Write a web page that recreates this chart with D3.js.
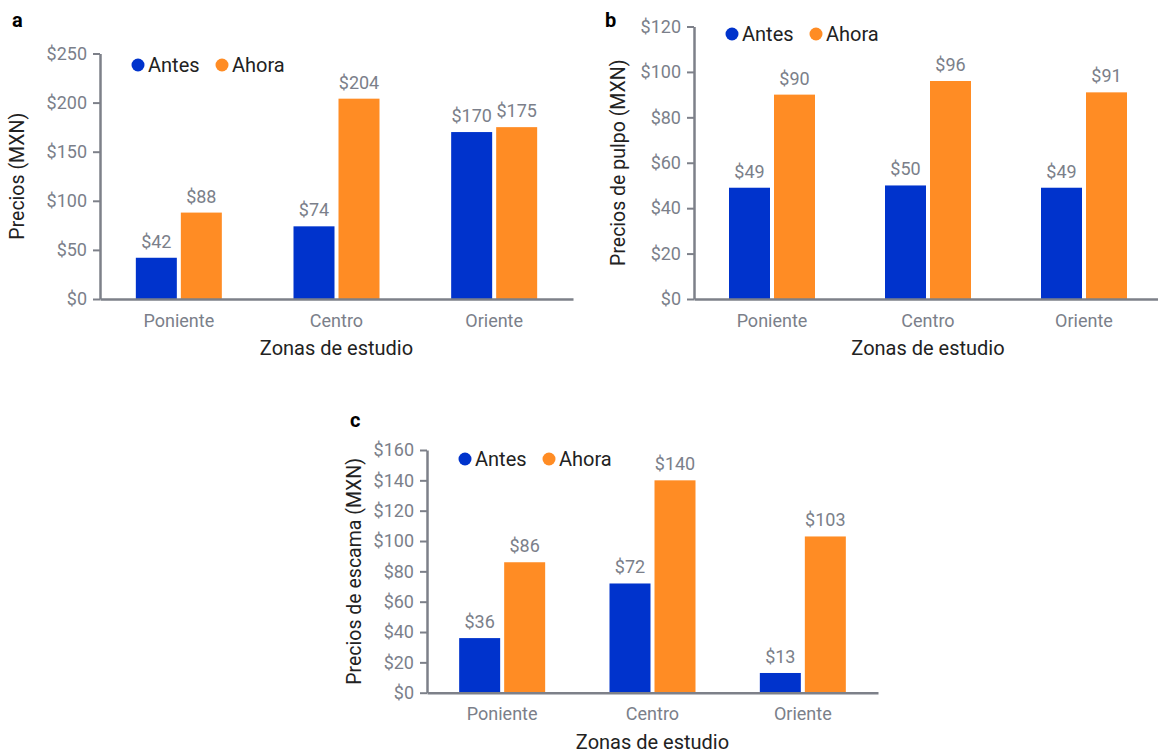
<!DOCTYPE html>
<html><head><meta charset="utf-8">
<script src="https://cdn.jsdelivr.net/npm/d3@7"></script>
<style>
body{margin:0;background:#fff;}
text{font-family:Roboto, "Liberation Sans", sans-serif;}
</style></head>
<body><svg id="chart" width="1158" height="753"></svg>
<script>
// ---- data ----
const categories = ["Poniente", "Centro", "Oriente"];
const seriesNames = ["Antes", "Ahora"];
const antesA = [42, 74, 170];
const ahoraA = [88, 204, 175];
const antesB = [49, 50, 49];
const ahoraB = [90, 96, 91];
const antesC = [36, 72, 13];
const ahoraC = [86, 140, 103];
const ticksA = [0, 50, 100, 150, 200, 250];
const ticksB = [0, 20, 40, 60, 80, 100, 120];
const ticksC = [0, 20, 40, 60, 80, 100, 120, 140, 160];
const panelLetters = ["a", "b", "c"];
const yTitles = ["Precios (MXN)", "Precios de pulpo (MXN)", "Precios de escama (MXN)"];
const xTitle = "Zonas de estudio";

// ---- styles / layout ----
const colors = {Antes: "#0033cc", Ahora: "#ff8c24"};
const axisColor = "#7d8089";
const tickText = "#7b7f8a";
const darkText = "#222222";

const panels = [
  {letter: panelLetters[0], ytitle: yTitles[0], antes: antesA, ahora: ahoraA, ticks: ticksA,
   x0: 100, x1: 573, yTop: 53.5, yBot: 299, letterPos: [12, 27], ytX: 24, legY: 65},
  {letter: panelLetters[1], ytitle: yTitles[1], antes: antesB, ahora: ahoraB, ticks: ticksB,
   x0: 694, x1: 1162, yTop: 26.5, yBot: 299, letterPos: [605, 27], ytX: 625, legY: 34},
  {letter: panelLetters[2], ytitle: yTitles[2], antes: antesC, ahora: ahoraC, ticks: ticksC,
   x0: 427, x1: 878, yTop: 450, yBot: 692.7, letterPos: [350, 427], ytX: 361, legY: 459}
];

const svg = d3.select("#chart");
const barW = 41, gap = 4;

panels.forEach(p => {
  const g = svg.append("g");
  const y = d3.scaleLinear().domain([0, d3.max(p.ticks)]).range([p.yBot, p.yTop]);
  const x = d3.scaleBand().domain(categories).range([p.x0, p.x1]).padding(0);
  const half = barW + gap / 2;
  const xs = d3.scaleBand().domain(seriesNames).range([-half, half])
    .paddingInner(gap / (barW + gap)).paddingOuter(0);

  // bars
  const rows = categories.map((c, i) => ({cat: c, Antes: p.antes[i], Ahora: p.ahora[i]}));
  rows.forEach(r => {
    seriesNames.forEach(s => {
      const bx = x(r.cat) + x.bandwidth() / 2 + xs(s);
      g.append("rect")
        .attr("x", bx).attr("y", y(r[s]))
        .attr("width", xs.bandwidth()).attr("height", y(0) - y(r[s]))
        .attr("fill", colors[s]);
      g.append("text")
        .attr("x", bx + xs.bandwidth() / 2).attr("y", y(r[s]) - 10)
        .attr("text-anchor", "middle").attr("font-size", 18)
        .attr("fill", tickText).text("$" + r[s]);
    });
  });

  // y axis
  const ya = g.append("g").attr("transform", `translate(${p.x0},0)`)
    .call(d3.axisLeft(y).tickValues(p.ticks).tickFormat(d => "$" + d).tickSize(7).tickSizeOuter(0).tickPadding(6));
  ya.select(".domain").attr("stroke", axisColor).attr("stroke-width", 2.5);
  ya.selectAll(".tick line").attr("stroke", axisColor).attr("stroke-width", 2);
  ya.selectAll(".tick text").attr("fill", tickText).attr("font-size", 18).attr("font-family", "Roboto");

  // x axis
  const xa = g.append("g").attr("transform", `translate(0,${p.yBot})`)
    .call(d3.axisBottom(x).tickSize(0).tickSizeOuter(0).tickPadding(15));
  xa.select(".domain").attr("stroke", axisColor).attr("stroke-width", 2.5);
  xa.selectAll(".tick text").attr("fill", tickText).attr("font-size", 18).attr("font-family", "Roboto");

  // axis titles
  g.append("text")
    .attr("x", (p.x0 + p.x1) / 2)
    .attr("y", p.yBot + 56).attr("text-anchor", "middle")
    .attr("font-size", 20).attr("fill", darkText).text(xTitle);
  g.append("text")
    .attr("transform", `translate(${p.ytX},${(p.yTop + p.yBot) / 2}) rotate(-90)`)
    .attr("text-anchor", "middle").attr("font-size", 19.5).attr("fill", darkText).text(p.ytitle);

  // panel letter
  g.append("text").attr("x", p.letterPos[0]).attr("y", p.letterPos[1])
    .attr("font-size", 20).attr("font-weight", "bold").attr("fill", "#000").text(p.letter);

  // legend
  const lx = p.x0 + 38;
  const offs = [0, 84];
  seriesNames.forEach((s, i) => {
    g.append("circle").attr("cx", lx + offs[i]).attr("cy", p.legY).attr("r", 6.5).attr("fill", colors[s]);
    g.append("text").attr("x", lx + offs[i] + 10).attr("y", p.legY + 7)
      .attr("font-size", 20).attr("fill", darkText).text(s);
  });
});
</script>
</body></html>
